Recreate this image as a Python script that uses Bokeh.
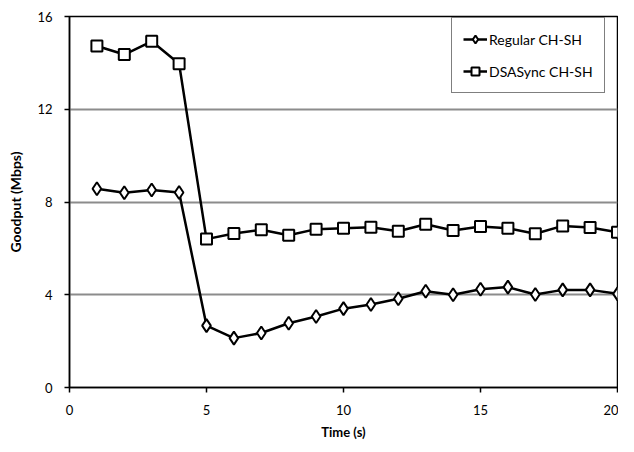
from bokeh.plotting import figure
from bokeh.models import Range1d, FixedTicker, Legend, LegendItem
from bokeh.embed import file_html
from bokeh.resources import INLINE

time_s = list(range(1, 21))
regular = [8.57, 8.40, 8.52, 8.41, 2.67, 2.13, 2.35, 2.77, 3.06, 3.40,
           3.58, 3.83, 4.15, 4.00, 4.24, 4.33, 4.01, 4.21, 4.21, 4.04]
dsasync = [14.73, 14.36, 14.93, 13.96, 6.40, 6.64, 6.80, 6.57, 6.83, 6.87,
           6.91, 6.74, 7.04, 6.77, 6.94, 6.87, 6.63, 6.97, 6.90, 6.70]
series_names = ["Regular CH-SH", "DSASync CH-SH"]
x_ticks = [0, 5, 10, 15, 20]
y_ticks = [0, 4, 8, 12, 16]

FONT = "Lato"

p = figure(width=618, height=444, output_backend="svg", toolbar_location=None,
           x_range=Range1d(0, 20), y_range=Range1d(0, 16),
           min_border_left=69, min_border_right=1, min_border_top=16, min_border_bottom=57)
p.background_fill_color = "white"
p.border_fill_color = "white"
p.outline_line_color = "black"
p.outline_line_width = 1.5

p.xgrid.visible = False
p.ygrid.ticker = FixedTicker(ticks=y_ticks)
p.ygrid.grid_line_color = "#8c8c8c"
p.ygrid.grid_line_width = 2

for ax in (p.xaxis[0], p.yaxis[0]):
    ax.axis_line_color = "black"
    ax.axis_line_width = 1.5
    ax.major_tick_line_color = "black"
    ax.major_tick_line_width = 1.5
    ax.minor_tick_line_color = None
    ax.major_tick_in = 0
    ax.major_tick_out = 5
    ax.major_label_text_font = FONT
    ax.major_label_text_font_size = "13px"
    ax.major_label_text_color = "black"
    ax.axis_label_text_font = FONT
    ax.axis_label_text_font_size = "13px"
    ax.axis_label_text_font_style = "bold"
    ax.axis_label_text_color = "black"

p.xaxis.ticker = FixedTicker(ticks=x_ticks)
p.yaxis.ticker = FixedTicker(ticks=y_ticks)
p.xaxis.axis_label = "Time (s)"
p.yaxis.axis_label = "Goodput (Mbps)"
p.yaxis.axis_label_text_font_size = "14px"
p.xaxis.major_label_standoff = 12
p.xaxis.axis_label_standoff = 6
p.yaxis.major_label_standoff = 12
p.yaxis.axis_label_standoff = 10

l1 = p.line(time_s, regular, line_color="black", line_width=2.5)
s1 = p.scatter(time_s, regular, marker="diamond", size=13, fill_color="white",
               line_color="black", line_width=2)
l2 = p.line(time_s, dsasync, line_color="black", line_width=2.5)
s2 = p.scatter(time_s, dsasync, marker="square", size=11, fill_color="white",
               line_color="black", line_width=2)

legend = Legend(items=[LegendItem(label=series_names[0], renderers=[l1, s1]),
                       LegendItem(label=series_names[1], renderers=[l2, s2])],
                location=(382, 294))
legend.border_line_color = "black"
legend.border_line_width = 1.5
legend.background_fill_color = "white"
legend.background_fill_alpha = 1
legend.label_text_font = FONT
legend.label_text_font_size = "14px"
legend.label_text_color = "black"
legend.glyph_width = 24
legend.glyph_height = 20
legend.label_standoff = 2
legend.spacing = 12
legend.padding = 11
legend.margin = 0
p.add_layout(legend, "center")

open("out.html", "w").write(file_html(p, INLINE))
